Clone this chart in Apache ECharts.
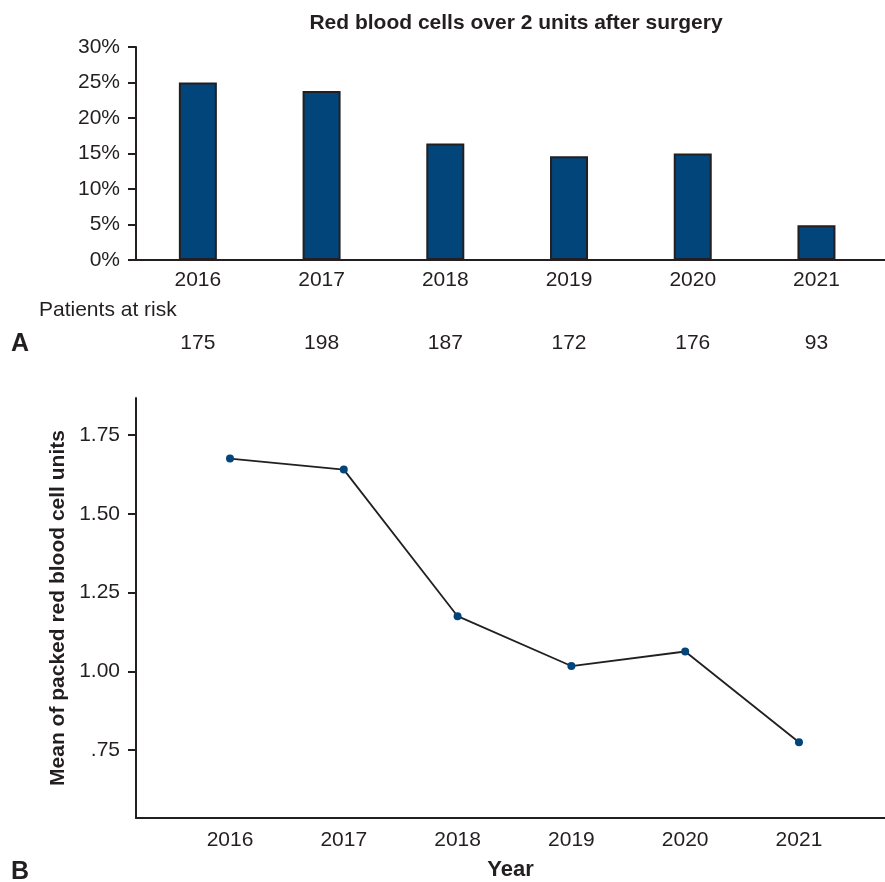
<!DOCTYPE html>
<html>
<head>
<meta charset="utf-8">
<script src="https://cdn.jsdelivr.net/npm/echarts@6/dist/echarts.min.js"></script>
<style>
  html, body { margin: 0; padding: 0; background: #fff; }
  #chart { width: 885px; height: 882px; }
</style>
</head>
<body>
<div id="chart"></div>
<script>
// Years shown on both panels
const years = [2016, 2017, 2018, 2019, 2020, 2021];
// Panel A: share of patients receiving more than 2 RBC units (%)
const transfusionPct = [25.0, 23.8, 16.4, 14.6, 15.0, 4.9];
// Panel A: patients at risk per year
const patientsAtRisk = [175, 198, 187, 172, 176, 93];
// Panel B: mean packed red blood cell units per patient
const meanUnits = [1.675, 1.64, 1.175, 1.017, 1.063, 0.775];
// Tick labels
const pctTicks = [0, 5, 10, 15, 20, 25, 30];
const unitTicks = [0.75, 1.0, 1.25, 1.5, 1.75];

const FONT = '"Liberation Sans", Arial, Helvetica, sans-serif';
const INK = '#231f20';
const BLUE = '#02457a';

const chart = echarts.init(document.getElementById('chart'), null, { renderer: 'canvas' });

const patientsByYear = {};
years.forEach((y, i) => { patientsByYear[y] = patientsAtRisk[i]; });

const axisLine = { show: true, lineStyle: { color: INK, width: 2 } };
const tickLabel = { color: INK, fontFamily: FONT, fontSize: 21 };

chart.setOption({
  animation: false,
  backgroundColor: '#fff',
  textStyle: { fontFamily: FONT },
  title: {
    text: 'Red blood cells over 2 units after surgery',
    left: 511,
    textAlign: 'center',
    top: 8,
    textStyle: { fontFamily: FONT, fontSize: 21, fontWeight: 'bold', color: INK }
  },
  grid: [
    { left: 136, right: 0, top: 47, height: 213, containLabel: false },
    { left: 136, right: 0, top: 398, height: 422, containLabel: false }
  ],
  xAxis: [
    {
      gridIndex: 0, type: 'value', min: 2015.5, max: 2021.554,
      axisLine: axisLine, axisTick: { show: false }, splitLine: { show: false },
      axisLabel: Object.assign({ customValues: years, margin: 10, formatter: v => String(v) }, tickLabel)
    },
    {
      // row of patients-at-risk counts under the year labels
      gridIndex: 0, type: 'value', min: 2015.5, max: 2021.554, position: 'bottom', offset: 63,
      axisLine: { show: false }, axisTick: { show: false }, splitLine: { show: false },
      axisLabel: Object.assign({ customValues: years, margin: 10, formatter: v => String(patientsByYear[Math.round(v)]) }, tickLabel)
    },
    {
      gridIndex: 1, type: 'value', min: 2015.174, max: 2021.756,
      axisLine: axisLine, axisTick: { show: false }, splitLine: { show: false },
      axisLabel: Object.assign({ customValues: years, margin: 12, formatter: v => String(v) }, tickLabel),
      name: 'Year', nameLocation: 'middle', nameGap: 41,
      nameTextStyle: { fontFamily: FONT, fontSize: 22, fontWeight: 'bold', color: INK }
    }
  ],
  yAxis: [
    {
      gridIndex: 0, type: 'value', min: 0, max: 30,
      axisLine: axisLine,
      axisTick: { show: true, customValues: pctTicks, length: 8, lineStyle: { color: INK, width: 2 } },
      splitLine: { show: false },
      axisLabel: Object.assign({ customValues: pctTicks, margin: 16, formatter: v => v + '%' }, tickLabel)
    },
    {
      gridIndex: 1, type: 'value', min: 0.535, max: 1.867,
      axisLine: axisLine,
      axisTick: { show: true, customValues: unitTicks, length: 8, lineStyle: { color: INK, width: 2 } },
      splitLine: { show: false },
      axisLabel: Object.assign({
        customValues: unitTicks, margin: 16,
        formatter: v => v.toFixed(2).replace(/^0/, '')
      }, tickLabel),
      name: 'Mean of packed red blood cell units', nameLocation: 'middle', nameGap: 65,
      nameTextStyle: { fontFamily: FONT, fontSize: 21, fontWeight: 'bold', color: INK }
    }
  ],
  graphic: [
    { type: 'text', left: 39, top: 300, style: { text: 'Patients at risk', font: '21px ' + FONT, fill: INK } },
    { type: 'text', left: 11, top: 332, style: { text: 'A', font: 'bold 25px ' + FONT, fill: INK } },
    { type: 'text', left: 11, top: 860, style: { text: 'B', font: 'bold 25px ' + FONT, fill: INK } }
  ],
  series: [
    {
      type: 'bar', xAxisIndex: 0, yAxisIndex: 0, barWidth: 38,
      itemStyle: { color: BLUE, borderColor: INK, borderWidth: 2 },
      data: years.map((y, i) => [y, transfusionPct[i]])
    },
    {
      type: 'line', xAxisIndex: 2, yAxisIndex: 1,
      symbol: 'circle', symbolSize: 8,
      lineStyle: { color: INK, width: 1.8 },
      itemStyle: { color: BLUE },
      data: years.map((y, i) => [y, meanUnits[i]])
    }
  ]
});
</script>
</body>
</html>
